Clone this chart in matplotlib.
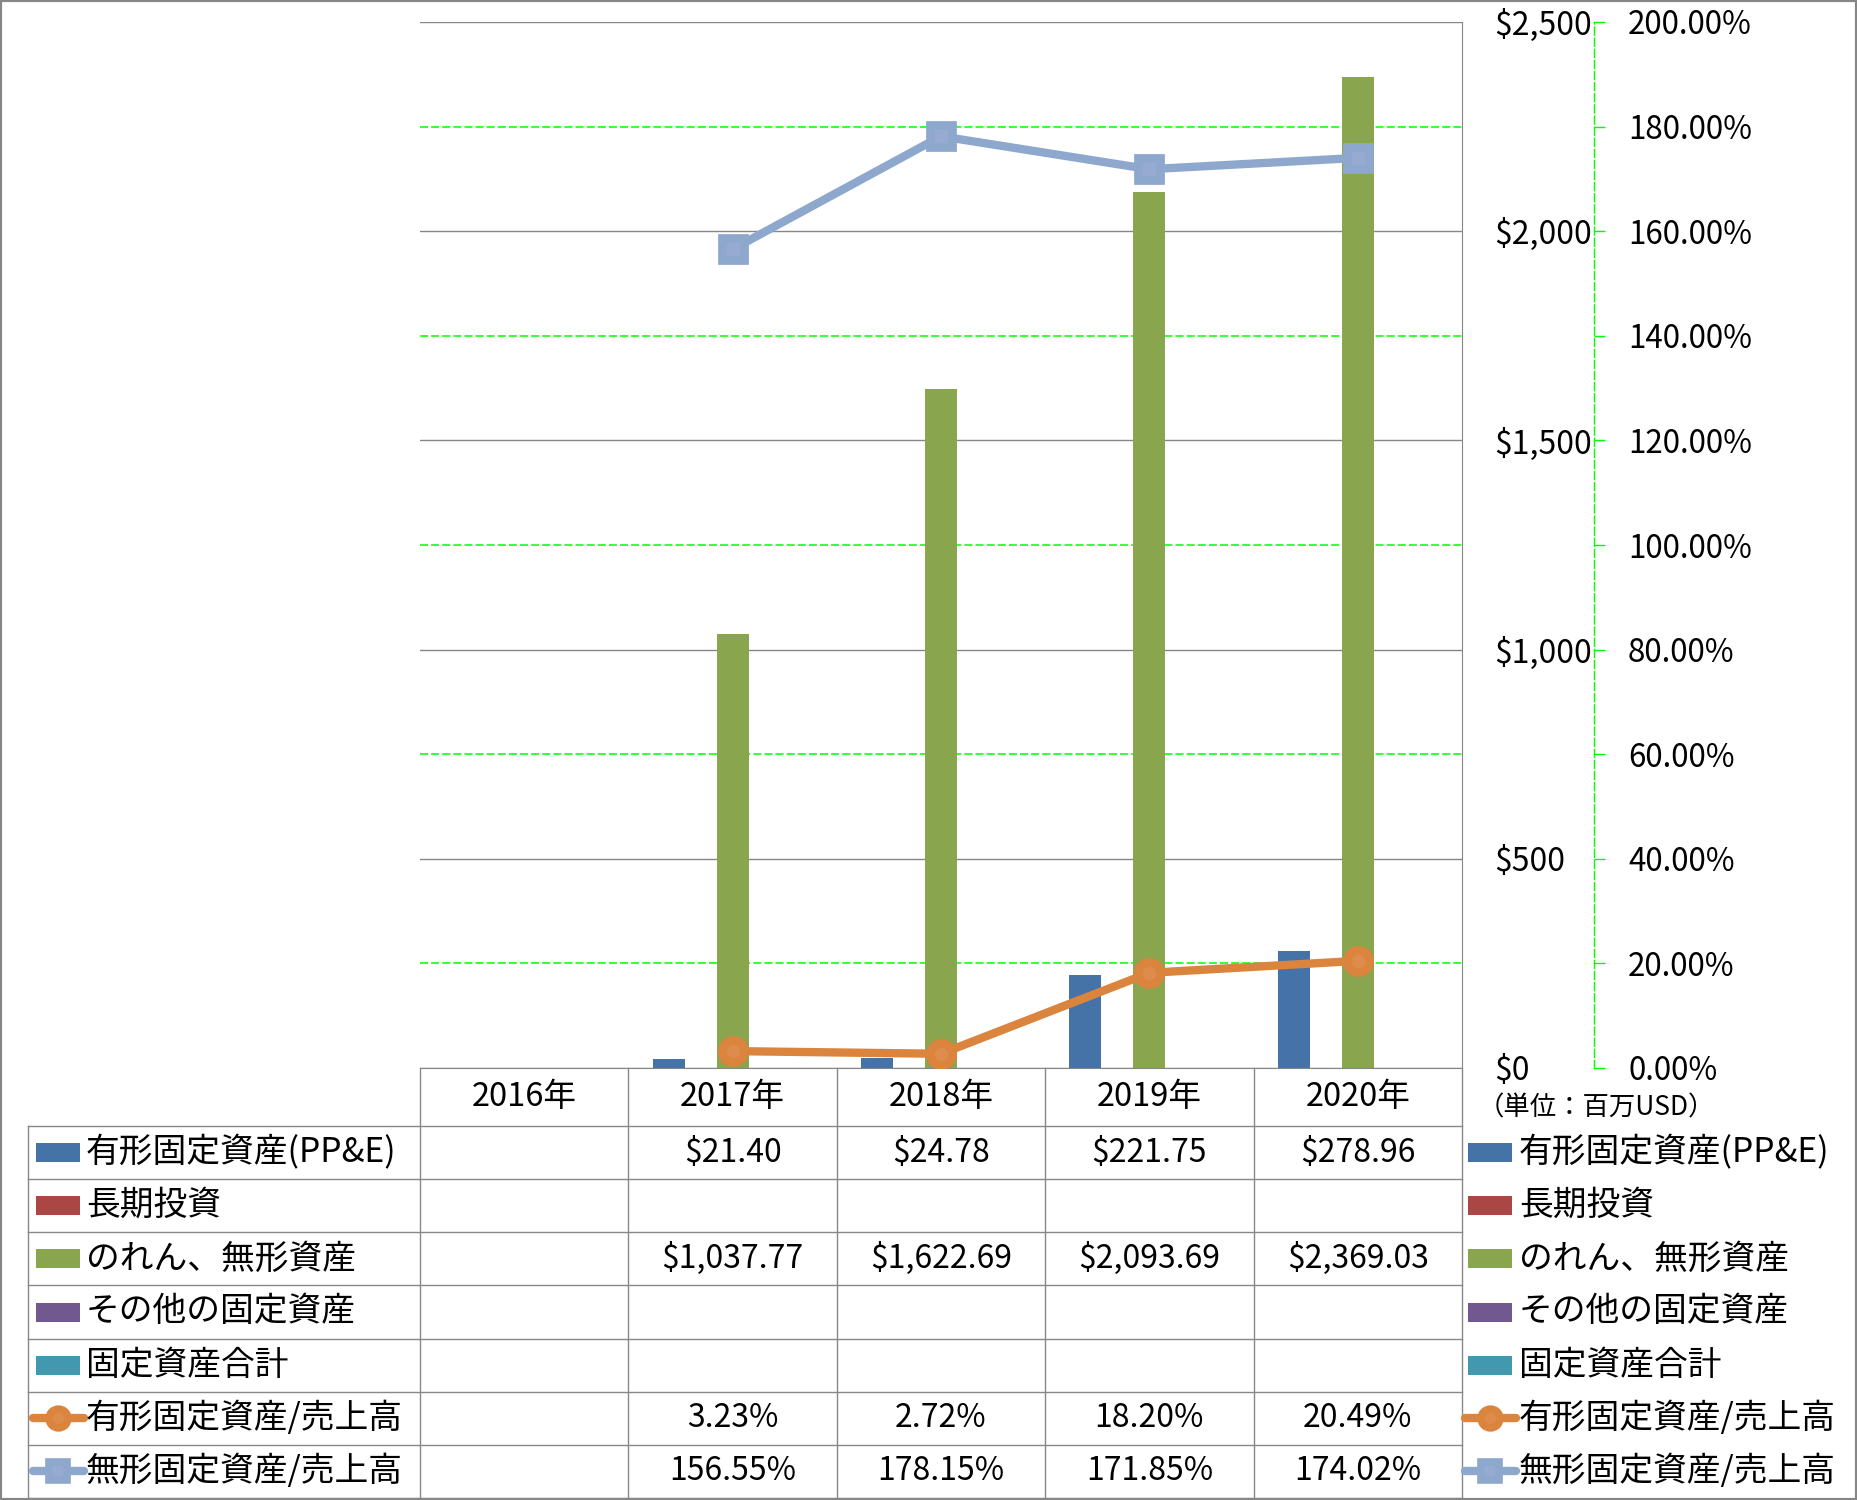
import matplotlib
matplotlib.use("Agg")
import matplotlib.pyplot as plt
import numpy as np
from matplotlib import transforms
from matplotlib.lines import Line2D
from matplotlib.patches import Rectangle
from matplotlib.ticker import FuncFormatter, MultipleLocator, FixedLocator

plt.rcParams['font.family'] = ['Noto Sans CJK JP', 'DejaVu Sans']
plt.rcParams['lines.scale_dashes'] = False

# data
years = ["2016年", "2017年", "2018年", "2019年", "2020年"]
ppe = [np.nan, 21.40, 24.78, 221.75, 278.96]
long_invest = [np.nan, np.nan, np.nan, np.nan, np.nan]
goodwill = [np.nan, 1037.77, 1622.69, 2093.69, 2369.03]
other_fixed = [np.nan, np.nan, np.nan, np.nan, np.nan]
total_fixed = [np.nan, np.nan, np.nan, np.nan, np.nan]
ppe_ratio = [np.nan, 3.23, 2.72, 18.20, 20.49]
intang_ratio = [np.nan, 156.55, 178.15, 171.85, 174.02]

bar_names = ["有形固定資産(PP&E)", "長期投資", "のれん、無形資産", "その他の固定資産", "固定資産合計"]
bar_colors = ["#4572A7", "#AA4643", "#89A54E", "#71588F", "#4198AF"]
line_names = ["有形固定資産/売上高", "無形固定資産/売上高"]
line_colors = ["#DB843D", "#8EA8CD"]
line_faces = ["#DE8C4B", "#97AAD1"]
line_markers = ["o", "s"]

bar_series = [ppe, long_invest, goodwill, other_fixed, total_fixed]
line_series = [ppe_ratio, intang_ratio]

W, H = 1857, 1500
fig = plt.figure(figsize=(W / 100, H / 100), dpi=100)
num_fs = 23
lab_fs = 24.3


def fx(x):
    return x / W


def fy(y):
    return 1 - y / H


ax = fig.add_axes([fx(420), fy(1068), (1462 - 420) / W, (1068 - 22) / H])
x = np.arange(len(years))
bw = 0.1536
for i, vals in enumerate(bar_series):
    ax.bar(x + (i - 2) * bw, vals, width=bw, color=bar_colors[i], zorder=2)

ax.set_xlim(-0.5, len(years) - 0.5)
ax.set_ylim(0, 2500)
ax.yaxis.set_major_locator(MultipleLocator(500))
ax.yaxis.set_minor_locator(FixedLocator([250, 750, 1250, 1750, 2250]))
ax.yaxis.set_major_formatter(FuncFormatter(lambda v, p: f"${v:,.0f}"))
ax.tick_params(axis='x', length=0, labelbottom=False)
ax.grid(axis='y', which='major', color='#868686', lw=1)
ax.grid(axis='y', which='minor', color='#00FF00', lw=1.1, linestyle=(0, (5.8, 2.2)))
ax.set_axisbelow(True)
ax.spines['left'].set_visible(False)
ax.spines['top'].set_visible(False)
ax.spines['right'].set_color('#868686')
ax.spines['bottom'].set_color('#868686')

ax2 = ax.twinx()
# twinx moves the first axis to the left, so put it back on the right
ax.yaxis.tick_right()
ax.tick_params(axis='y', which='both', length=0, pad=23, labelsize=num_fs,
               left=False, labelleft=False, right=True, labelright=True)

ax2.set_ylim(0, 200)
for i, vals in enumerate(line_series):
    ax2.plot(x, vals, color=line_colors[i], lw=6, marker=line_markers[i],
             ms=16, mfc=line_faces[i], mec=line_colors[i], mew=6.3, zorder=3)
ax2.yaxis.set_major_locator(MultipleLocator(20))
ax2.yaxis.set_major_formatter(FuncFormatter(lambda v, p: f"{v:.2f}%"))
ax2.tick_params(axis='y', length=8, width=1, color='#00FF00', pad=16.5,
                labelsize=num_fs - 0.5, direction='out')
for s in ['left', 'top', 'bottom']:
    ax2.spines[s].set_visible(False)
ax2.spines['right'].set_position(('axes', (1594 - 420) / (1462 - 420)))
ax2.spines['right'].set_color('#00FF00')
ax2.spines['right'].set_linestyle((0, (5.8, 2.2)))
ax2.spines['right'].set_linewidth(1)

# data table under the plot
tr = transforms.blended_transform_factory(ax.transData, fig.transFigure)
grid_c = '#888888'
row_top = 1126
row_h = (1498 - 1126) / 7

for b in np.arange(-0.5, len(years), 1.0):
    fig.add_artist(Line2D([b, b], [fy(1068), fy(1498)], transform=tr, color=grid_c, lw=1))
fig.add_artist(Line2D([fx(28), fx(28)], [fy(row_top), fy(1498)], transform=fig.transFigure,
                      color=grid_c, lw=1))
for r in range(8):
    yy = fy(row_top + r * row_h)
    fig.add_artist(Line2D([fx(28), fx(1462)], [yy, yy], transform=fig.transFigure,
                          color=grid_c, lw=1))

for j, yr in enumerate(years):
    fig.text(j, fy(1097), yr, transform=tr, ha='center', va='center', fontsize=num_fs + 0.5)

row_labels = bar_names + line_names
row_vals = bar_series + line_series
for r, (lab, vals) in enumerate(zip(row_labels, row_vals)):
    cy = row_top + (r + 0.5) * row_h
    for j, v in enumerate(vals):
        if np.isnan(v):
            continue
        if r < 5:
            s = f"${v:,.2f}"
        else:
            s = f"{v:.2f}%"
        fig.text(j, fy(cy), s, transform=tr, ha='center', va='center', fontsize=num_fs)
    # legend keys: left in table and right of plot
    for kx, tx in [(36, 86), (1468, 1519)]:
        if r < 5:
            fig.add_artist(Rectangle((fx(kx), fy(cy + 9.5)), 44 / W, 19 / H,
                                     transform=fig.transFigure, color=bar_colors[r], lw=0))
        else:
            k = r - 5
            fig.add_artist(Line2D([fx(kx - 3), fx(kx + 48)], [fy(cy), fy(cy)],
                                  transform=fig.transFigure, color=line_colors[k], lw=6,
                                  solid_capstyle='round'))
            fig.add_artist(Line2D([fx(kx + 22)], [fy(cy)], transform=fig.transFigure,
                                  marker=line_markers[k], ms=13.5, mfc=line_faces[k],
                                  mec=line_colors[k], mew=5.5, lw=0))
        fig.text(fx(tx), fy(cy), lab, ha='left', va='center', fontsize=lab_fs)

fig.text(fx(1478), fy(1108), "（単位：百万USD）", ha='left', va='center', fontsize=19)

fig.add_artist(Rectangle((0, 0), 1, 1, transform=fig.transFigure, fill=False,
                         ec='#868686', lw=3))

fig.savefig("out.png", dpi=100)
